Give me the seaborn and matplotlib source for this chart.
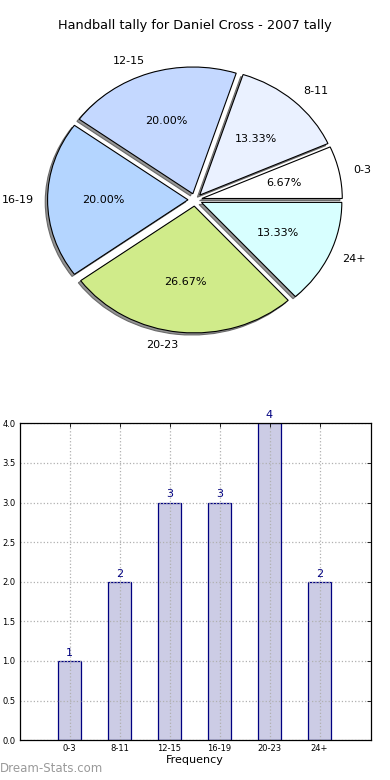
import matplotlib
matplotlib.use("Agg")
import matplotlib.pyplot as plt
import seaborn as sns
import pandas as pd

sns.set_style("white")
plt.rcParams['font.family'] = ['DejaVu Sans']
plt.rcParams['text.color'] = 'black'
plt.rcParams['axes.labelcolor'] = 'black'

categories = ["0-3", "8-11", "12-15", "16-19", "20-23", "24+"]
counts = [1, 2, 3, 3, 4, 2]
pie_colors = ["#FFFFFF", "#EAF1FF", "#C4D8FF", "#B4D5FF", "#D0EB8A", "#D8FFFF"]
title = "Handball tally for Daniel Cross - 2007 tally"
xlabel = "Frequency"
yticks = [0.0, 0.5, 1.0, 1.5, 2.0, 2.5, 3.0, 3.5, 4.0]

df = pd.DataFrame({"cat": categories, "count": counts})

fig, (ax1, ax2) = plt.subplots(2, 1, figsize=(3.9, 7.8), dpi=100)
fig.subplots_adjust(left=0.05, right=0.95, top=0.947, bottom=0.051, hspace=0.205)

# Pie
wedges, texts, autotexts = ax1.pie(
    df["count"], labels=df["cat"], colors=pie_colors, explode=[0.05] * len(counts),
    autopct="%1.2f%%",
    shadow={"ox": -0.012, "oy": -0.012, "facecolor": "#8a8a8a",
            "edgecolor": "#606060", "alpha": 0.9},
    startangle=0,
    wedgeprops=dict(edgecolor="black", linewidth=0.8),
    textprops=dict(fontsize=8, color="black"))
ax1.set_aspect("auto")
ax1.set_xlim(-1.25, 1.25)
ax1.set_ylim(-1.25, 1.25)
ax1.set_title(title, fontsize=9.3, pad=9, color="black")

# Bar chart
sns.barplot(data=df, x="cat", y="count", ax=ax2, width=0.45,
            color="#CCCCE5", edgecolor="#000080", linewidth=0.9, saturation=1)
ax2.set_xlim(-1, 6.02)
ax2.set_ylim(0, 4)
ax2.set_yticks(yticks)
ax2.set_yticklabels([f"{v:.1f}" for v in yticks])
ax2.set_xlabel(xlabel, fontsize=8, labelpad=1)
ax2.set_ylabel("")
ax2.tick_params(axis="both", labelsize=6, direction="in", length=3, width=0.6,
                top=True, right=True, pad=3, colors="black")
ax2.grid(True, linestyle=":", color="#b0b0b0", linewidth=0.9)
ax2.set_axisbelow(False)
for s in ax2.spines.values():
    s.set_color("black")
    s.set_linewidth(0.9)
    s.set_zorder(5)
for i, v in enumerate(counts):
    ax2.text(i, v + 0.04, str(v), ha="center", va="bottom", fontsize=8, color="#000080")

fig.text(0.0, 0.006, "Dream-Stats.com", fontsize=8.5, color="#9a9a9a",
         ha="left", va="bottom")

fig.savefig("out.png", dpi=100)
